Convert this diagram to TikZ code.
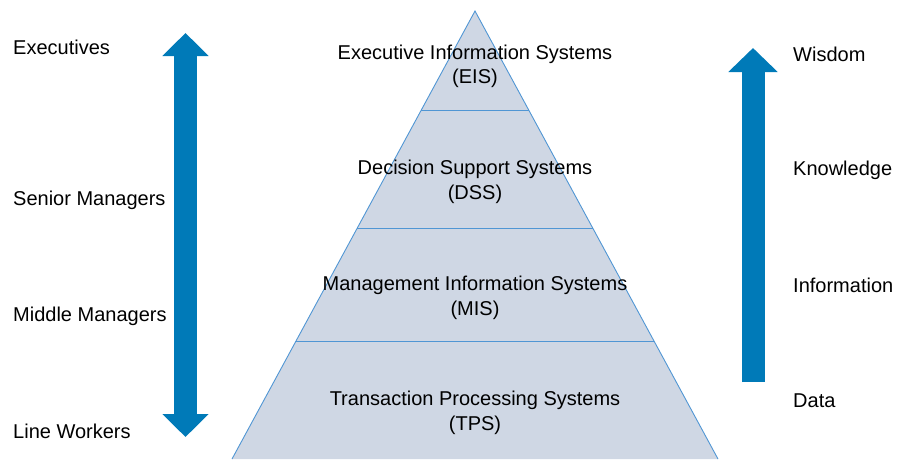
\documentclass[tikz,border=0pt]{standalone}
\usepackage{fontspec}
\setmainfont{Liberation Sans}
\usetikzlibrary{arrows.meta}
\definecolor{arrowblue}{RGB}{0,122,184}
\definecolor{pyrfill}{RGB}{207,215,228}
\definecolor{pyredge}{RGB}{80,150,212}
\begin{document}
\begin{tikzpicture}[x=1pt, y=-1pt,
  every node/.style={font=\fontsize{20}{24.5}\selectfont, inner sep=0pt},
  level/.style={align=center},
  side/.style={anchor=west},
  bigarrow/.style={draw=arrowblue, line width=23pt},
  bigtip/.tip={Triangle[width=45pt, length=23pt]}]
\useasboundingbox (0,0) rectangle (899,459);
% pyramid
\coordinate (apex) at (475,11);
\coordinate (bl) at (232,459);
\coordinate (br) at (718,459);
\coordinate (l1) at (420.7,110); \coordinate (r1) at (529.3,110);
\coordinate (l2) at (356.8,228); \coordinate (r2) at (593.2,228);
\coordinate (l3) at (295.6,341); \coordinate (r3) at (654.4,341);
\fill[pyrfill] (apex) -- (bl) -- (br) -- cycle;
\draw[pyredge, line width=0.9pt] (bl) -- (apex) -- (br);
\draw[pyredge, line width=0.9pt] (l1) -- (r1);
\draw[pyredge, line width=0.9pt] (l2) -- (r2);
\draw[pyredge, line width=0.9pt] (l3) -- (r3);
\node[level] (eis) at (475,66.5) {Executive Information Systems\\(EIS)};
\node[level] (dss) at (475,182) {Decision Support Systems\\(DSS)};
\node[level] (mis) at (475,298) {Management Information Systems\\(MIS)};
\node[level] (tps) at (475,413) {Transaction Processing Systems\\(TPS)};
% left side
\node[side] (exec) at (13,47.5) {Executives};
\node[side] (senior) at (13,200.5) {Senior Managers};
\node[side] (middle) at (13,316.5) {Middle Managers};
\node[side] (line) at (13,431.5) {Line Workers};
\coordinate (lt) at (185.5,33);
\coordinate (lb) at (185.5,437);
\draw[bigarrow, bigtip-bigtip] (lt) -- (lb);
% right side
\node[side] (wisdom) at (793,54.5) {Wisdom};
\node[side] (know) at (793,170.5) {Knowledge};
\node[side] (info) at (793,285.5) {Information};
\node[side] (data) at (793,400.5) {Data};
\coordinate (rb) at (753,382);
\coordinate (rt) at (753,48);
\draw[bigarrow, -{Triangle[width=48pt, length=24pt]}] (rb) -- (rt);
\end{tikzpicture}
\end{document}
